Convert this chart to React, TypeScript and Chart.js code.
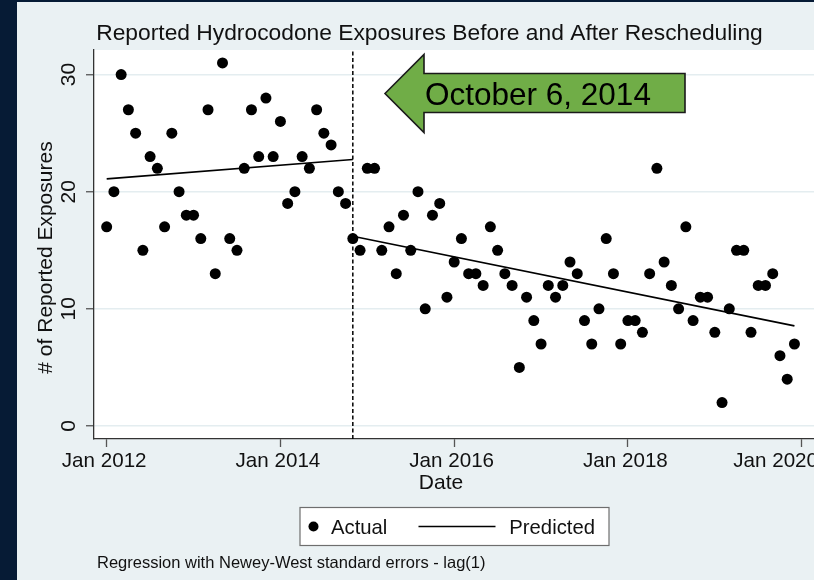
import React, { useEffect, useRef } from "react";
import { Chart, registerables } from "chart.js";

Chart.register(...registerables);

// ---- Data ----
// Monthly reported exposures, Jan 2012 (month 0) to Dec 2019 (month 95)
const actualExposures: number[] = [
  17, 20, 30, 27, 25, 15, 23, 22, 17, 25, 20, 18,
  18, 16, 27, 13, 31, 16, 15, 22, 27, 23, 28, 23,
  26, 19, 20, 23, 22, 27, 25, 24, 20, 19, 16, 15,
  22, 22, 15, 17, 13, 18, 15, 20, 10, 18, 19, 11,
  14, 16, 13, 13, 12, 17, 15, 13, 12, 5, 11, 9,
  7, 12, 11, 12, 14, 13, 9, 7, 10, 16, 13, 7,
  9, 9, 8, 13, 22, 14, 12, 10, 17, 9, 11, 11,
  8, 2, 10, 15, 15, 8, 12, 12, 13, 6, 4, 7,
];
const preTrendMonths: number[] = [0, 34];
const preTrendValues: number[] = [21.1, 22.75];
const postTrendMonths: number[] = [34, 95];
const postTrendValues: number[] = [16.2, 8.55];
const cutoffMonth = 34;

const xTickMonths: number[] = [0, 24, 48, 72, 96];
const xTickLabels: string[] = ["Jan 2012", "Jan 2014", "Jan 2016", "Jan 2018", "Jan 2020"];
const yTickValues: number[] = [0, 10, 20, 30];

const titleText = "Reported Hydrocodone Exposures Before and After Rescheduling";
const yAxisTitle = "# of Reported Exposures";
const xAxisTitle = "Date";
const annotationText = "October 6, 2014";
const legendLabels: string[] = ["Actual", "Predicted"];
const footnoteText = "Regression with Newey-West standard errors - lag(1)";

// ---- Layout / style ----
const X_MIN = -1.75;
const X_MAX = 99;
const Y_MIN = -1.11;
const Y_MAX = 32.1;
const FONT = '"Liberation Sans", Arial, Helvetica, sans-serif';
const TEXT = "#111111";
const PANEL = "#EAF1F3";
const DARK = "#061B35";
const CANVAS_W = 860;
const CANVAS_H = 580;
const GRAPH_RIGHT = 818; // right edge of the (cropped) graph region

const decorPlugin = {
  id: "stataDecor",
  beforeDraw(chart: any) {
    const { ctx, chartArea } = chart;
    ctx.save();
    ctx.fillStyle = DARK;
    ctx.fillRect(0, 0, CANVAS_W, CANVAS_H);
    ctx.fillStyle = PANEL;
    ctx.fillRect(17, 2, CANVAS_W - 17, CANVAS_H - 2);
    ctx.fillStyle = "#ffffff";
    ctx.fillRect(chartArea.left, chartArea.top, chartArea.right - chartArea.left, chartArea.bottom - chartArea.top);
    ctx.restore();
  },
  afterDraw(chart: any) {
    const { ctx } = chart;
    const yScale = chart.scales.y;
    const xScale = chart.scales.x;
    ctx.save();
    ctx.fillStyle = TEXT;

    // Title
    ctx.font = `22.8px ${FONT}`;
    ctx.textAlign = "center";
    ctx.textBaseline = "alphabetic";
    ctx.fillText(titleText, 429.5, 39.5);

    // X tick labels (kept inside the graph region like Stata does)
    ctx.font = `20.6px ${FONT}`;
    ctx.textAlign = "left";
    xTickMonths.forEach((m, i) => {
      const label = xTickLabels[i];
      const w = ctx.measureText(label).width;
      const px = xScale.getPixelForValue(m) - 2.5;
      let left = px - w / 2;
      if (left + w > GRAPH_RIGHT) left = GRAPH_RIGHT - w;
      ctx.fillText(label, left, 467.3);
    });

    // Y tick labels (rotated)
    ctx.font = `21px ${FONT}`;
    for (const v of yTickValues) {
      const py = yScale.getPixelForValue(v);
      ctx.save();
      ctx.translate(74.5, py);
      ctx.rotate(-Math.PI / 2);
      ctx.textAlign = "center";
      ctx.textBaseline = "alphabetic";
      ctx.fillText(String(v), 0, 0);
      ctx.restore();
    }

    // Y axis title
    ctx.save();
    ctx.font = `21px ${FONT}`;
    ctx.translate(51.5, 257.5);
    ctx.rotate(-Math.PI / 2);
    ctx.textAlign = "center";
    ctx.textBaseline = "alphabetic";
    ctx.fillText(yAxisTitle, 0, 0);
    ctx.restore();

    // X axis title
    ctx.font = `21px ${FONT}`;
    ctx.textAlign = "center";
    ctx.fillText(xAxisTitle, 441, 489);

    // Annotation arrow
    ctx.beginPath();
    ctx.moveTo(385, 93.5);
    ctx.lineTo(424, 54.5);
    ctx.lineTo(424, 73.5);
    ctx.lineTo(685, 73.5);
    ctx.lineTo(685, 112.5);
    ctx.lineTo(424, 112.5);
    ctx.lineTo(424, 132.5);
    ctx.closePath();
    ctx.fillStyle = "#70AD47";
    ctx.fill();
    ctx.lineWidth = 1.6;
    ctx.strokeStyle = "#1a1a1a";
    ctx.stroke();
    ctx.fillStyle = "#000";
    ctx.font = `31.5px ${FONT}`;
    ctx.textAlign = "left";
    ctx.fillText(annotationText, 425, 105);

    // Legend box
    ctx.fillStyle = "#ffffff";
    ctx.fillRect(300, 507.5, 309, 38);
    ctx.strokeStyle = "#6e6e6e";
    ctx.lineWidth = 1.2;
    ctx.strokeRect(300, 507.5, 309, 38);
    ctx.fillStyle = "#000";
    ctx.beginPath();
    ctx.arc(313.5, 526.5, 5, 0, Math.PI * 2);
    ctx.fill();
    ctx.font = `20.3px ${FONT}`;
    ctx.fillStyle = TEXT;
    ctx.textAlign = "left";
    ctx.fillText(legendLabels[0], 331, 534.3);
    ctx.beginPath();
    ctx.moveTo(418.5, 526.5);
    ctx.lineTo(495.5, 526.5);
    ctx.strokeStyle = "#000";
    ctx.lineWidth = 1.6;
    ctx.stroke();
    ctx.fillText(legendLabels[1], 509.3, 534.3);

    // Footnote
    ctx.font = `16.5px ${FONT}`;
    ctx.fillText(footnoteText, 97, 568.3);

    ctx.restore();
  },
};

export default function App() {
  const canvasRef = useRef<HTMLCanvasElement | null>(null);

  useEffect(() => {
    const canvas = canvasRef.current;
    if (!canvas) return;
    const chart = new Chart(canvas, {
      type: "scatter",
      data: {
        datasets: [
          {
            type: "scatter",
            label: legendLabels[0],
            data: actualExposures.map((v, i) => ({ x: i, y: v })),
            pointRadius: 5.5,
            pointHoverRadius: 5.5,
            backgroundColor: "#000000",
            borderWidth: 0,
          } as any,
          {
            type: "line",
            label: legendLabels[1],
            data: preTrendMonths.map((m, i) => ({ x: m, y: preTrendValues[i] })),
            borderColor: "#000000",
            borderWidth: 1.7,
            pointRadius: 0,
            fill: false,
            tension: 0,
          } as any,
          {
            type: "line",
            label: legendLabels[1] + " (post)",
            data: postTrendMonths.map((m, i) => ({ x: m, y: postTrendValues[i] })),
            borderColor: "#000000",
            borderWidth: 1.7,
            pointRadius: 0,
            fill: false,
            tension: 0,
          } as any,
          {
            type: "line",
            label: "Rescheduling",
            data: [
              { x: cutoffMonth, y: Y_MIN },
              { x: cutoffMonth, y: Y_MAX },
            ],
            borderColor: "#000000",
            borderWidth: 1.5,
            borderDash: [4, 2.5],
            pointRadius: 0,
            fill: false,
          } as any,
        ],
      },
      options: {
        responsive: false,
        animation: false,
        events: [],
        layout: { padding: { left: 0, top: 50, right: CANVAS_W - 823.4, bottom: 100 } },
        plugins: {
          legend: { display: false },
          tooltip: { enabled: false },
          title: { display: false },
        },
        scales: {
          x: {
            type: "linear",
            min: X_MIN,
            max: X_MAX,
            afterBuildTicks: (s: any) => {
              s.ticks = xTickMonths.map((v) => ({ value: v }));
            },
            afterFit: (s: any) => {
              s.height = 41;
            },
            ticks: { display: false },
            grid: {
              drawOnChartArea: false,
              drawTicks: true,
              tickLength: 8,
              tickColor: "#555555",
              tickWidth: 1.3,
            },
            border: { color: "#333333", width: 1.3 },
          },
          y: {
            type: "linear",
            min: Y_MIN,
            max: Y_MAX,
            afterBuildTicks: (s: any) => {
              s.ticks = yTickValues.map((v) => ({ value: v }));
            },
            afterFit: (s: any) => {
              s.width = 94;
            },
            ticks: { display: false },
            grid: {
              color: "#E4EDF0",
              lineWidth: 1.5,
              drawTicks: true,
              tickLength: 8,
              tickColor: "#555555",
              tickWidth: 1.3,
            },
            border: { color: "#333333", width: 1.3 },
          },
        },
      } as any,
      plugins: [decorPlugin],
    });
    return () => chart.destroy();
  }, []);

  return (
    <div
      style={{
        position: "fixed",
        left: 0,
        top: 0,
        width: 814,
        height: 580,
        overflow: "hidden",
        background: DARK,
      }}
    >
      <canvas
        ref={canvasRef}
        width={CANVAS_W}
        height={CANVAS_H}
        style={{ width: CANVAS_W, height: CANVAS_H, display: "block" }}
      />
    </div>
  );
}
